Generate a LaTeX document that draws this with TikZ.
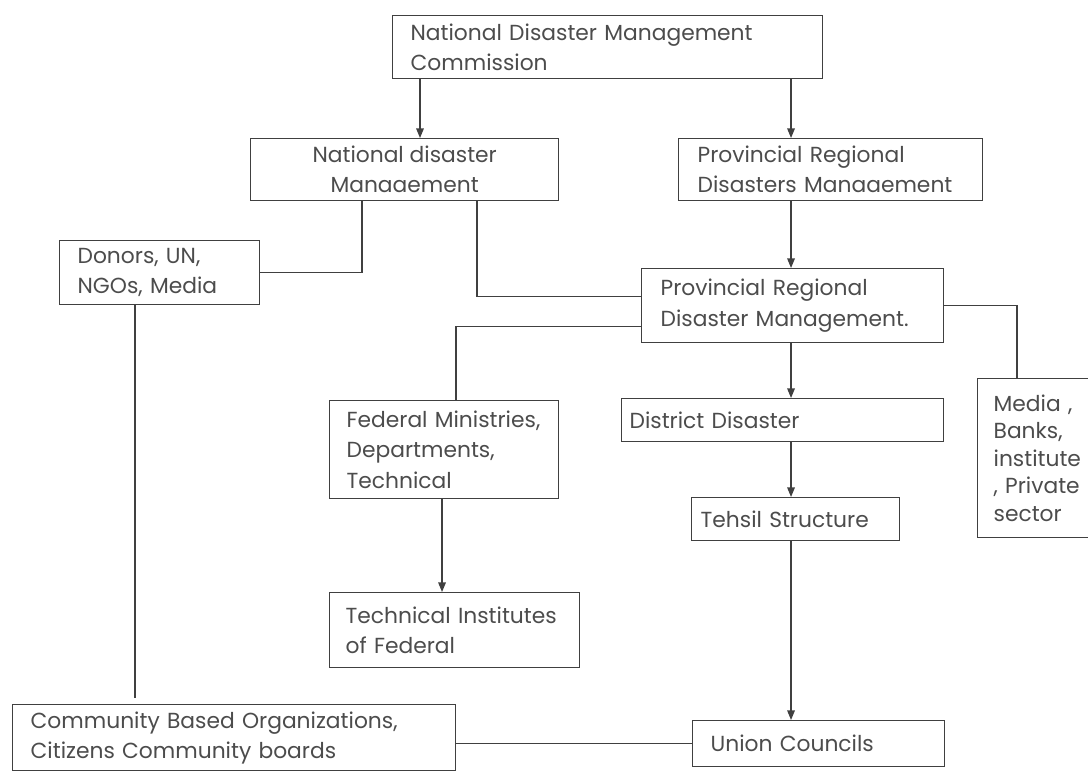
\documentclass[tikz,border=0pt]{standalone}
\usepackage{fontspec}
\setmainfont{Poppins}
\usepackage{tikz}
\usetikzlibrary{arrows.meta, positioning, calc}

\begin{document}
\begin{tikzpicture}[
    x=0.025cm, y=-0.025cm,
    box/.style={draw=black!75, line width=0.9pt, anchor=north west, inner ysep=0pt, align=left, text=black!70, font=\fontsize{15.5}{21.5}\selectfont},
    link/.style={draw=black!75, line width=0.9pt},
    arr/.style={link, -{Triangle[length=0.24cm, width=0.19cm]}}]
  \useasboundingbox (0,0) rectangle (1088,771);
  \node[box, minimum width=10.75cm, minimum height=1.575cm, inner xsep=0.45cm, text width=9.85cm] (NDMC) at (392,15) {National Disaster Management\\Commission};
  \node[box, minimum width=7.7cm, minimum height=1.55cm, align=center] (NDM) at (250,138) {National disaster\\Manaaement};
  \node[box, minimum width=7.6cm, minimum height=1.55cm, inner xsep=0.475cm, text width=6.65cm] (PRDM) at (678,138) {Provincial Regional\\Disasters Manaaement};
  \node[box, minimum width=5cm, minimum height=1.6cm, inner xsep=0.45cm, text width=4.1cm] (DON) at (59,240) {Donors, UN,\\NGOs, Media};
  \node[box, minimum width=7.55cm, minimum height=1.85cm, inner xsep=0.475cm, text width=6.6cm] (PRDM2) at (641,268) {Provincial Regional\\Disaster Management.};
  \node[box, minimum width=5.725cm, minimum height=2.45cm, inner xsep=0.425cm, text width=4.875cm] (FED) at (329,400) {Federal Ministries,\\Departments,\\Technical};
  \node[box, minimum width=8.05cm, minimum height=1.075cm, inner xsep=0.2cm, text width=7.65cm] (DIS) at (621,398) {District Disaster};
  \node[box, minimum width=5.2cm, minimum height=1.075cm, inner xsep=0.225cm, text width=4.75cm] (TEH) at (691,497) {Tehsil Structure};
  \node[box, minimum width=6.25cm, minimum height=1.875cm, inner xsep=0.4cm, text width=5.45cm] (TECH) at (329,592) {Technical Institutes\\of Federal};
  \node[box, minimum width=3.5cm, minimum height=3.975cm, inner xsep=0.4cm, text width=2.7cm, font=\fontsize{15.5}{19.5}\selectfont] (MED) at (977,378) {Media ,\\Banks,\\institute\\, Private\\sector};
  \node[box, minimum width=6.3cm, minimum height=1.15cm, inner xsep=0.45cm, text width=5.4cm] (UC) at (692,720) {Union Councils};
  \node[box, minimum width=11.075cm, minimum height=1.65cm, inner xsep=0.45cm, text width=10.175cm] (CBO) at (12,704) {Community Based Organizations,\\Citizens Community boards};
  % main column
  \coordinate (col) at ([xshift=2.825cm]PRDM.north west);
  \draw[arr] ([xshift=0.7cm]NDMC.south west) coordinate (c1) -- (c1 |- NDM.north);
  \draw[arr] (col |- NDMC.south) -- (col);
  \draw[arr] (col |- PRDM.south) -- (col |- PRDM2.north);
  \draw[arr] (col |- PRDM2.south) -- (col |- DIS.north);
  \draw[arr] (col |- DIS.south) -- (col |- TEH.north);
  \draw[arr] (col |- TEH.south) -- (col |- UC.north);
  % side links
  \draw[link] ([xshift=2.8cm]NDM.south west) |- (DON.east);
  \draw[link] ([xshift=5.675cm]NDM.south west) |- ([yshift=0.225cm]PRDM2.west);
  \draw[link] ([yshift=-0.525cm]PRDM2.west) -| ([xshift=3.175cm]FED.north west);
  \draw[link] (PRDM2.east) -| ([xshift=1cm]MED.north west);
  \draw[arr] ([xshift=2.825cm]FED.south west) coordinate (c3) -- (c3 |- TECH.north);
  \draw[link, shorten >=0.15cm] ([xshift=1.9cm]DON.south west) coordinate (c4) -- (c4 |- CBO.north);
  \draw[link] (UC.west) -- (UC.west -| CBO.east);
\end{tikzpicture}
\end{document}
